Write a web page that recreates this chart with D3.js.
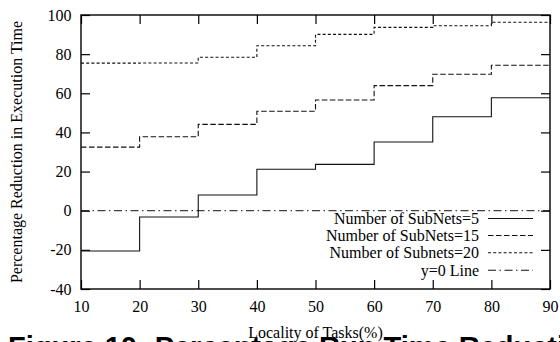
<!DOCTYPE html>
<html><head><meta charset="utf-8">
<script src="https://cdn.jsdelivr.net/npm/d3@7"></script>
<style>html,body{margin:0;padding:0;background:#fff;overflow:hidden}
text{font-family:'Liberation Serif','Times New Roman',serif}</style>
</head><body><svg id="c" width="560" height="342"></svg>
<script>
const locality = [10, 20, 30, 40, 50, 60, 70, 80];
const subnets5 = [-20.6, -3.2, 8.0, 21.2, 23.7, 35.1, 48.0, 57.7];
const subnets15 = [32.5, 37.8, 44.1, 50.8, 56.6, 63.9, 69.7, 74.3];
const subnets20 = [75.4, 75.5, 78.4, 84.3, 90.1, 93.7, 94.5, 96.3];
const zeroLine = 0;
const xTicks = [10, 20, 30, 40, 50, 60, 70, 80, 90];
const yTicks = [-40, -20, 0, 20, 40, 60, 80, 100];
const seriesNames = ["Number of SubNets=5", "Number of SubNets=15", "Number of Subnets=20", "y=0 Line"];
const titleText = "Figure 10: Percentage Run Time Reduction";
const xLabel = "Locality of Tasks(%)";
const yLabel = "Percentage Reduction in Execution Time";

const svg = d3.select("#c");
const L = 81, R = 550, T = 15, B = 289;
const x = d3.scaleLinear().domain([xTicks[0], xTicks[xTicks.length - 1]]).range([L, R]);
const y = d3.scaleLinear().domain([yTicks[0], yTicks[yTicks.length - 1]]).range([B, T]);
const serif = "'Liberation Serif','Times New Roman',serif";

svg.append("rect").attr("width", 560).attr("height", 342).attr("fill", "#fff");

// axes
const gb = svg.append("g").attr("transform", `translate(0,${B})`)
  .call(d3.axisBottom(x).tickValues(xTicks).tickSize(-9).tickPadding(11.3).tickFormat(d3.format("d")));
const gl = svg.append("g").attr("transform", `translate(${L},0)`)
  .call(d3.axisLeft(y).tickValues(yTicks).tickSize(-9).tickPadding(9.5).tickFormat(d => String(d)));
const gt = svg.append("g").attr("transform", `translate(0,${T})`)
  .call(d3.axisTop(x).tickValues(xTicks).tickSize(-9).tickFormat(""));
const gr = svg.append("g").attr("transform", `translate(${R},0)`)
  .call(d3.axisRight(y).tickValues(yTicks).tickSize(-9).tickFormat(""));
[gb, gl, gt, gr].forEach(g => {
  g.attr("font-family", serif).attr("font-size", 16);
  g.select(".domain").remove();
  g.selectAll(".tick line").attr("stroke", "#000").attr("stroke-width", 1.2);
  g.selectAll("text").attr("font-family", serif).style("font-family", serif).attr("font-size", 16).attr("fill", "#000");
});

// frame
svg.append("rect").attr("x", L).attr("y", T).attr("width", R - L).attr("height", B - T)
  .attr("fill", "none").attr("stroke", "#000").attr("stroke-width", 1.4);

const styles = [
  { data: subnets5, dash: null },
  { data: subnets15, dash: "5.5,2.5" },
  { data: subnets20, dash: "3,2.2" }
];
const zeroDash = "8,3.5,1.5,3.5";

const line = d3.line().x(d => x(d[0])).y(d => y(d[1])).curve(d3.curveStepAfter);
const xMax = xTicks[xTicks.length - 1];

// zero line
svg.append("path")
  .attr("d", line([[xTicks[0], zeroLine], [xMax, zeroLine]]))
  .attr("fill", "none").attr("stroke", "#111").attr("stroke-width", 1).attr("stroke-dasharray", zeroDash);

styles.forEach(s => {
  const pts = locality.map((v, i) => [v, s.data[i]]);
  pts.push([xMax, s.data[s.data.length - 1]]);
  svg.append("path").attr("d", line(pts))
    .attr("fill", "none").attr("stroke", "#111").attr("stroke-width", 1.1)
    .attr("stroke-dasharray", s.dash);
});

// legend
const dashes = [null, "5.5,2.5", "3,2.2", zeroDash];
const rowY = [218.5, 235.5, 252.8, 270.3];
seriesNames.forEach((n, i) => {
  svg.append("text").attr("x", 479).attr("y", rowY[i]).attr("dy", "0.34em")
    .attr("text-anchor", "end").style("font-family", serif).attr("font-size", 16).attr("fill", "#000").text(n);
  svg.append("line").attr("x1", 488).attr("x2", 533).attr("y1", rowY[i]).attr("y2", rowY[i])
    .attr("stroke", "#111").attr("stroke-width", 1.1).attr("stroke-dasharray", dashes[i]);
});

// axis labels
svg.append("text").attr("x", (L + R) / 2).attr("y", 338).attr("text-anchor", "middle")
  .style("font-family", serif).attr("font-size", 16).attr("fill", "#000").text(xLabel);
svg.append("text").attr("transform", `translate(22,${(T + B) / 2}) rotate(-90)`).attr("text-anchor", "middle")
  .style("font-family", serif).attr("font-size", 16).attr("fill", "#000").text(yLabel);

// title (clipped at bottom)
svg.append("text").attr("x", 8).attr("y", 357)
  .style("font-family", "'Liberation Sans',Arial,sans-serif").attr("font-weight", "bold")
  .attr("font-size", 29).attr("fill", "#000").text(titleText);
</script></body></html>
